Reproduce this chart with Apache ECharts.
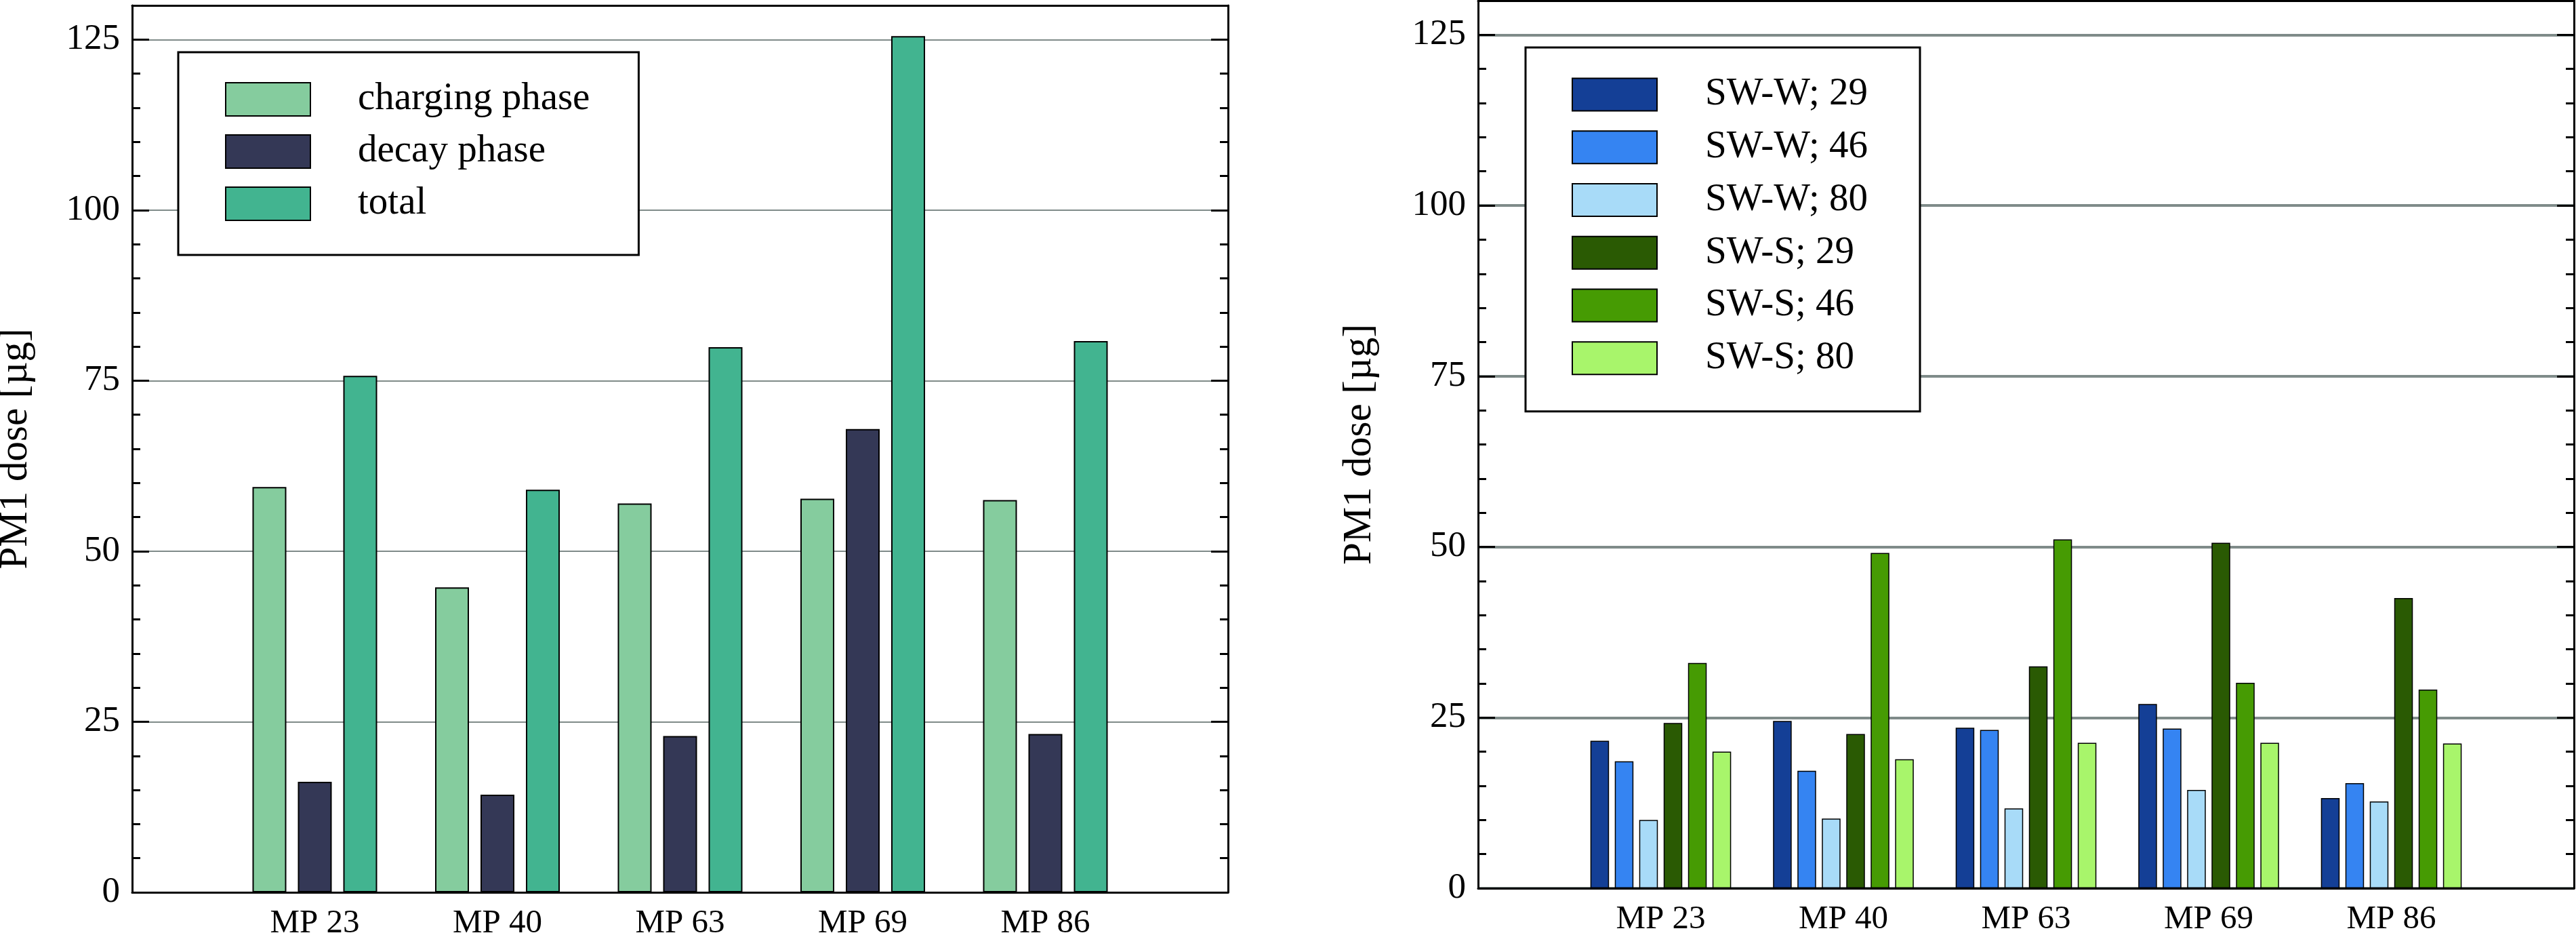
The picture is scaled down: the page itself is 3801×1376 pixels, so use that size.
<!DOCTYPE html>
<html>
<head>
<meta charset="utf-8">
<script src="https://cdn.jsdelivr.net/npm/echarts@6/dist/echarts.min.js"></script>
<style>html,body{margin:0;padding:0;background:#fff;overflow:hidden;}#c{width:3801px;height:1376px;}</style>
</head>
<body>
<div id="c"></div>
<script>
// ---- data ----
const categories = ['MP 23', 'MP 40', 'MP 63', 'MP 69', 'MP 86'];
const chargingPhase = [59.4, 44.7, 57.0, 57.7, 57.5];
const decayPhase = [16.2, 14.3, 22.9, 67.9, 23.2];
const totalDose = [75.7, 59.0, 79.9, 125.5, 80.8];
const swW29 = [21.6, 24.5, 23.5, 27.0, 13.2];
const swW46 = [18.6, 17.2, 23.2, 23.4, 15.4];
const swW80 = [10.0, 10.2, 11.7, 14.4, 12.7];
const swS29 = [24.2, 22.6, 32.5, 50.6, 42.5];
const swS46 = [33.0, 49.1, 51.1, 30.1, 29.1];
const swS80 = [20.0, 18.9, 21.3, 21.3, 21.2];
const leftNames = ['charging phase', 'decay phase', 'total'];
const rightNames = ['SW-W; 29', 'SW-W; 46', 'SW-W; 80', 'SW-S; 29', 'SW-S; 46', 'SW-S; 80'];
const yMin = 0, yMax = 130, yMajor = 25, yMinor = 5;
const yName = 'PM1 dose [µg]';

// ---- styles ----
const FONT = 'Liberation Serif';
const leftColors = ['#85cc9e', '#343856', '#42b490'];
const rightColors = ['#143f96', '#3584f2', '#a8dbf8', '#2a5a03', '#469b03', '#a8f56b'];
const GRID_COLOR = '#7f8b89';

const padCats = ['', ...categories, ''];
const pad = arr => ['-', ...arr, '-'];

function xAxes(gridIndex) {
  return [
    { type: 'category', gridIndex, data: padCats, boundaryGap: false, position: 'bottom', z: 5,
      axisLine: { show: true, lineStyle: { color: '#000', width: 3 } },
      axisTick: { show: false },
      axisLabel: { interval: 0, fontFamily: FONT, fontSize: 49, color: '#000', margin: 22 },
      splitLine: { show: false } },
    { type: 'category', gridIndex, data: padCats, boundaryGap: false, position: 'top', z: 5,
      axisLine: { show: true, onZero: false, lineStyle: { color: '#000', width: 3 } },
      axisTick: { show: false }, axisLabel: { show: false }, splitLine: { show: false } }
  ];
}
function yAxes(gridIndex, gridWidth, nameGap) {
  const base = { type: 'value', gridIndex, min: yMin, max: yMax };
  const tickAxis = (pos, interval, len, line) => Object.assign({}, base, {
    position: pos, interval, z: 5,
    axisLine: { show: line, onZero: false, lineStyle: { color: '#000', width: 3 } },
    axisTick: { show: true, inside: true, length: len, lineStyle: { color: '#000', width: 3 } },
    axisLabel: { show: false }, splitLine: { show: false }
  });
  return [
    Object.assign({}, base, {
      position: 'left', interval: yMajor, z: 0,
      name: '{n|' + yName + '}', nameLocation: 'middle', nameGap,
      nameTextStyle: { fontFamily: FONT, fontSize: 59, color: '#000',
        rich: { n: { fontFamily: FONT, fontSize: 59, color: '#000' } } },
      axisLine: { show: false }, axisTick: { show: false },
      axisLabel: { fontFamily: FONT, fontSize: 53, color: '#000', margin: 18,
        formatter: v => (v % yMajor === 0 ? String(v) : '') },
      splitLine: { show: true, lineStyle: { color: GRID_COLOR, width: gridWidth } }
    }),
    tickAxis('left', yMajor, 25, true),
    tickAxis('left', yMinor, 12, false),
    tickAxis('right', yMajor, 25, true),
    tickAxis('right', yMinor, 12, false)
  ];
}

const series = [];
[chargingPhase, decayPhase, totalDose].forEach((arr, i) => {
  series.push({ type: 'bar', name: leftNames[i], xAxisIndex: 0, yAxisIndex: 0,
    data: pad(arr), barWidth: 50, barGap: '34%',
    itemStyle: { color: leftColors[i], borderColor: '#000', borderWidth: 2 } });
});
[swW29, swW46, swW80, swS29, swS46, swS80].forEach((arr, i) => {
  series.push({ type: 'bar', name: rightNames[i], xAxisIndex: 2, yAxisIndex: 5,
    data: pad(arr), barWidth: 27.5, barGap: '31%',
    itemStyle: { color: rightColors[i], borderColor: '#000', borderWidth: 1.5 } });
});

const option = {
  animation: false,
  backgroundColor: '#fff',
  textStyle: { fontFamily: FONT },
  grid: [
    { left: 195, top: 8, width: 1617, height: 1308, containLabel: false, outerBoundsMode: 'none' },
    { left: 2181, top: 1, width: 1617, height: 1309, containLabel: false, outerBoundsMode: 'none' }
  ],
  xAxis: [...xAxes(0), ...xAxes(1)],
  yAxis: [...yAxes(0, 2, 142), ...yAxes(1, 4, 145)],
  legend: [
    { data: leftNames, orient: 'vertical', left: 263, top: 77, selectedMode: false, icon: 'rect',
      itemWidth: 125, itemHeight: 49, itemGap: 20, padding: [41, 72, 47, 69],
      borderColor: '#000', borderWidth: 3, backgroundColor: '#fff',
      textStyle: { fontFamily: FONT, fontSize: 57, color: '#000', lineHeight: 49, width: 342, padding: [0, 0, 0, 65] } },
    { data: rightNames, orient: 'vertical', left: 2251, top: 70, selectedMode: false, icon: 'rect',
      itemWidth: 125, itemHeight: 48, itemGap: 20.75, padding: [41, 71, 50, 68],
      borderColor: '#000', borderWidth: 3, backgroundColor: '#fff',
      textStyle: { fontFamily: FONT, fontSize: 57, color: '#000', lineHeight: 48, width: 246, padding: [0, 0, 0, 66] } }
  ],
  series
};
const chart = echarts.init(document.getElementById('c'), null, { renderer: 'canvas' });
chart.setOption(option);
</script>
</body>
</html>
